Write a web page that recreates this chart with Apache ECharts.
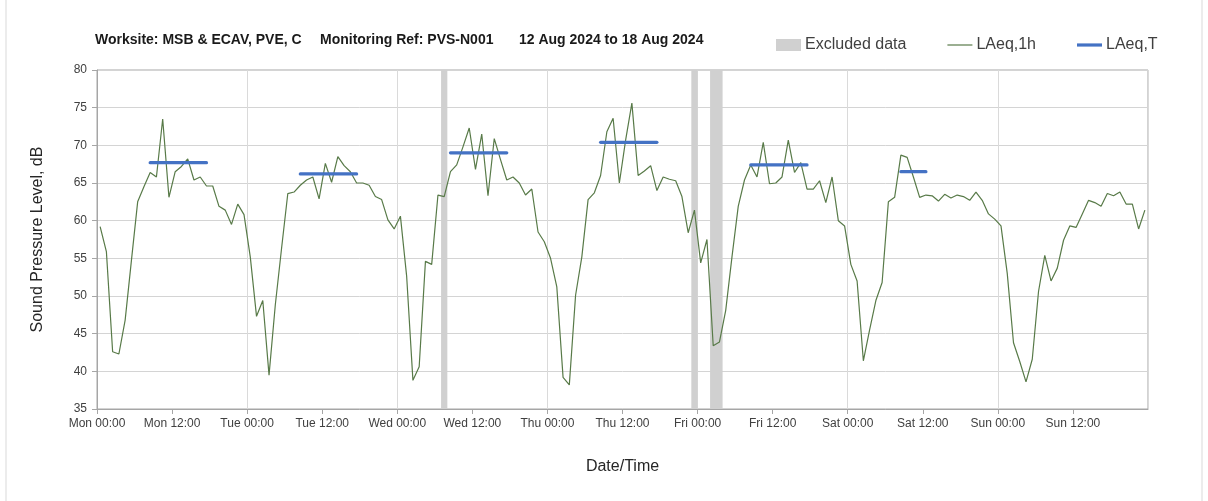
<!DOCTYPE html>
<html>
<head>
    <meta charset="utf-8" />
    <title>LAeq noise monitoring</title>
    <script src="https://cdn.jsdelivr.net/npm/echarts@6/dist/echarts.min.js"></script>
    <style>
        html, body {
            width: 100%;
            height: 100%;
            margin: 0px;
            padding: 0px;
            background: #fff;
        }
        #main {
            width: 1208px;
            height: 501px;
        }
    </style>
</head>
<body>
    <div id="main"></div>
<script type="text/javascript">
    // hourly LAeq,1h values, Mon 12 Aug 00:00 -> Sun 18 Aug 23:00
    var laeq1h = [
        59.2, 55.9, 42.6, 42.3, 46.8, 54.7, 62.5, 64.5, 66.4, 65.8, 73.5, 63.1,
        66.5, 67.2, 68.2, 65.4, 65.8, 64.6, 64.6, 61.9, 61.4, 59.5, 62.2, 60.8,
        55.2, 47.3, 49.4, 39.5, 48.8, 56.3, 63.6, 63.8, 64.7, 65.4, 65.8, 62.9,
        67.6, 65.1, 68.5, 67.3, 66.5, 65.0, 65.0, 64.7, 63.2, 62.8, 60.1, 58.9,
        60.6, 52.6, 38.8, 40.6, 54.6, 54.2, 63.4, 63.2, 66.5, 67.4, 69.8, 72.3,
        66.8, 71.5, 63.3, 70.9, 68.1, 65.4, 65.8, 65.0, 63.4, 64.2, 58.5, 57.2,
        55.0, 51.2, 39.2, 38.2, 50.1, 55.2, 62.8, 63.7, 66.0, 71.8, 73.6, 65.0,
        70.7, 75.6, 66.0, 66.6, 67.3, 64.0, 65.8, 65.5, 65.3, 63.2, 58.4, 61.4,
        54.4, 57.5, 43.4, 43.9, 48.1, 55.2, 61.9, 65.4, 67.4, 65.8, 70.4, 64.9,
        65.0, 65.8, 70.7, 66.4, 67.7, 64.2, 64.2, 65.3, 62.4, 65.8, 60.0, 59.3,
        54.2, 52.0, 41.4, 45.5, 49.4, 51.8, 62.5, 63.1, 68.7, 68.4, 65.8, 63.1,
        63.4, 63.3, 62.6, 63.5, 63.0, 63.4, 63.2, 62.7, 63.8, 62.7, 60.9, 60.2,
        59.3, 53.0, 43.8, 41.3, 38.6, 41.6, 50.6, 55.4, 52.0, 53.7, 57.4, 59.3,
        59.1, 60.9, 62.7, 62.4, 61.9, 63.6, 63.3, 63.8, 62.2, 62.2, 58.9, 61.4
    ];

    // LAeq,T periods: day index, first hour, last hour, level
    var ltDay = [0, 1, 2, 3, 4, 5];
    var ltFrom = [8, 8, 8, 8, 8, 8];
    var ltTo = [17, 17, 17, 17, 17, 12];
    var ltValue = [67.7, 66.2, 69.0, 70.4, 67.4, 66.5];

    // excluded data periods, hours from Mon 00:00
    var excludedFrom = [55, 95, 98];
    var excludedTo = [56, 96, 100];

    var dayNames = ['Mon', 'Tue', 'Wed', 'Thu', 'Fri', 'Sat', 'Sun'];

    var font = 'Liberation Sans, Arial, sans-serif';
    var textColor = '#404040';
    var green = '#587a48';
    var blue = '#4472c4';

    var myChart = echarts.init(document.getElementById('main'));

    var lineData = laeq1h.map(function (v, i) {
        return [i + 0.5, v];
    });

    var areas = excludedFrom.map(function (f, k) {
        return [{ xAxis: f }, { xAxis: excludedTo[k] }];
    });

    var series = [{
        name: 'Excluded data',
        type: 'line',
        data: [],
        itemStyle: { color: '#d0d0d0' },
        markArea: {
            silent: true,
            itemStyle: { color: '#d0d0d0' },
            data: areas
        }
    }, {
        name: 'LAeq,1h',
        type: 'line',
        data: lineData,
        symbol: 'none',
        showSymbol: false,
        z: 3,
        lineStyle: { color: green, width: 1.2 },
        itemStyle: { color: green }
    }];

    ltDay.forEach(function (d, k) {
        series.push({
            name: 'LAeq,T',
            type: 'line',
            symbol: 'none',
            showSymbol: false,
            z: 4,
            data: [[d * 24 + ltFrom[k] + 0.5, ltValue[k]], [d * 24 + ltTo[k] + 0.5, ltValue[k]]],
            lineStyle: { color: blue, width: 3.2, cap: 'round' },
            itemStyle: { color: blue }
        });
    });

    // flat bar legend icons (path box kept 25x12 by the outer move-to points)
    function barIcon(thick) {
        var a = 6 - thick / 2, b = 6 + thick / 2;
        return 'path://M0,0 M0,' + a + ' L25,' + a + ' L25,' + b + ' L0,' + b + ' Z M25,12';
    }

    myChart.setOption({
        animation: false,
        title: [{
            text: 'Worksite: MSB & ECAV, PVE, C',
            left: 95, top: 33
        }, {
            text: 'Monitoring Ref: PVS-N001',
            left: 320, top: 33
        }, {
            text: '12 Aug 2024 to 18 Aug 2024',
            left: 519, top: 33
        }].map(function (t) {
            t.padding = 0;
            t.textStyle = { fontFamily: font, fontSize: 14, fontWeight: 'bold', color: '#1a1a1a' };
            return t;
        }),
        legend: {
            left: 776,
            top: 37,
            itemWidth: 25,
            itemHeight: 12,
            itemGap: 41,
            padding: 0,
            textStyle: { fontFamily: font, fontSize: 16, color: textColor, padding: [0, 0, 0, -1] },
            data: [
                { name: 'Excluded data', icon: 'rect', itemStyle: { color: '#d0d0d0', borderWidth: 0 } },
                { name: 'LAeq,1h', icon: barIcon(1.2), itemStyle: { color: green, borderWidth: 0 } },
                { name: 'LAeq,T', icon: barIcon(3.2), itemStyle: { color: blue, borderWidth: 0 } }
            ]
        },
        graphic: [{
            type: 'rect',
            shape: { x: 6, y: -10, width: 1196, height: 530 },
            style: { fill: 'none', stroke: '#d9d9d9', lineWidth: 1 },
            silent: true
        }],
        grid: {
            left: 97,
            right: 60,
            top: 70,
            bottom: 92,
            show: true,
            borderColor: '#a6a6a6',
            borderWidth: 1
        },
        xAxis: [{
            type: 'value',
            min: 0,
            max: 168,
            interval: 12,
            name: 'Date/Time',
            nameLocation: 'middle',
            nameGap: 50,
            nameTextStyle: { fontFamily: font, fontSize: 16, color: '#262626' },
            axisLine: { show: true, lineStyle: { color: '#a6a6a6' } },
            axisTick: { show: true, length: 5, lineStyle: { color: '#a6a6a6' } },
            axisLabel: {
                showMaxLabel: false,
                margin: 9,
                fontFamily: font,
                fontSize: 12,
                color: textColor,
                formatter: function (v) {
                    if (v >= 168) return '';
                    return dayNames[Math.floor(v / 24)] + ' ' + (v % 24 === 0 ? '00:00' : '12:00');
                }
            },
            splitLine: { show: false }
        }, {
            type: 'value',
            min: 0,
            max: 168,
            interval: 24,
            position: 'bottom',
            axisLine: { show: false },
            axisTick: { show: false },
            axisLabel: { show: false },
            splitLine: { show: true, lineStyle: { color: '#dadada' } }
        }],
        yAxis: {
            type: 'value',
            min: 35,
            max: 80,
            interval: 5,
            name: 'Sound Pressure Level, dB',
            nameLocation: 'middle',
            nameGap: 51,
            nameTextStyle: { fontFamily: font, fontSize: 16, color: '#262626' },
            axisLine: { show: true, lineStyle: { color: '#a6a6a6' } },
            axisTick: { show: true, length: 5, lineStyle: { color: '#a6a6a6' } },
            axisLabel: { margin: 10, fontFamily: font, fontSize: 12, color: textColor },
            splitLine: { show: true, lineStyle: { color: '#d4d4d4' } }
        },
        series: series
    });
</script>
</body>
</html>
